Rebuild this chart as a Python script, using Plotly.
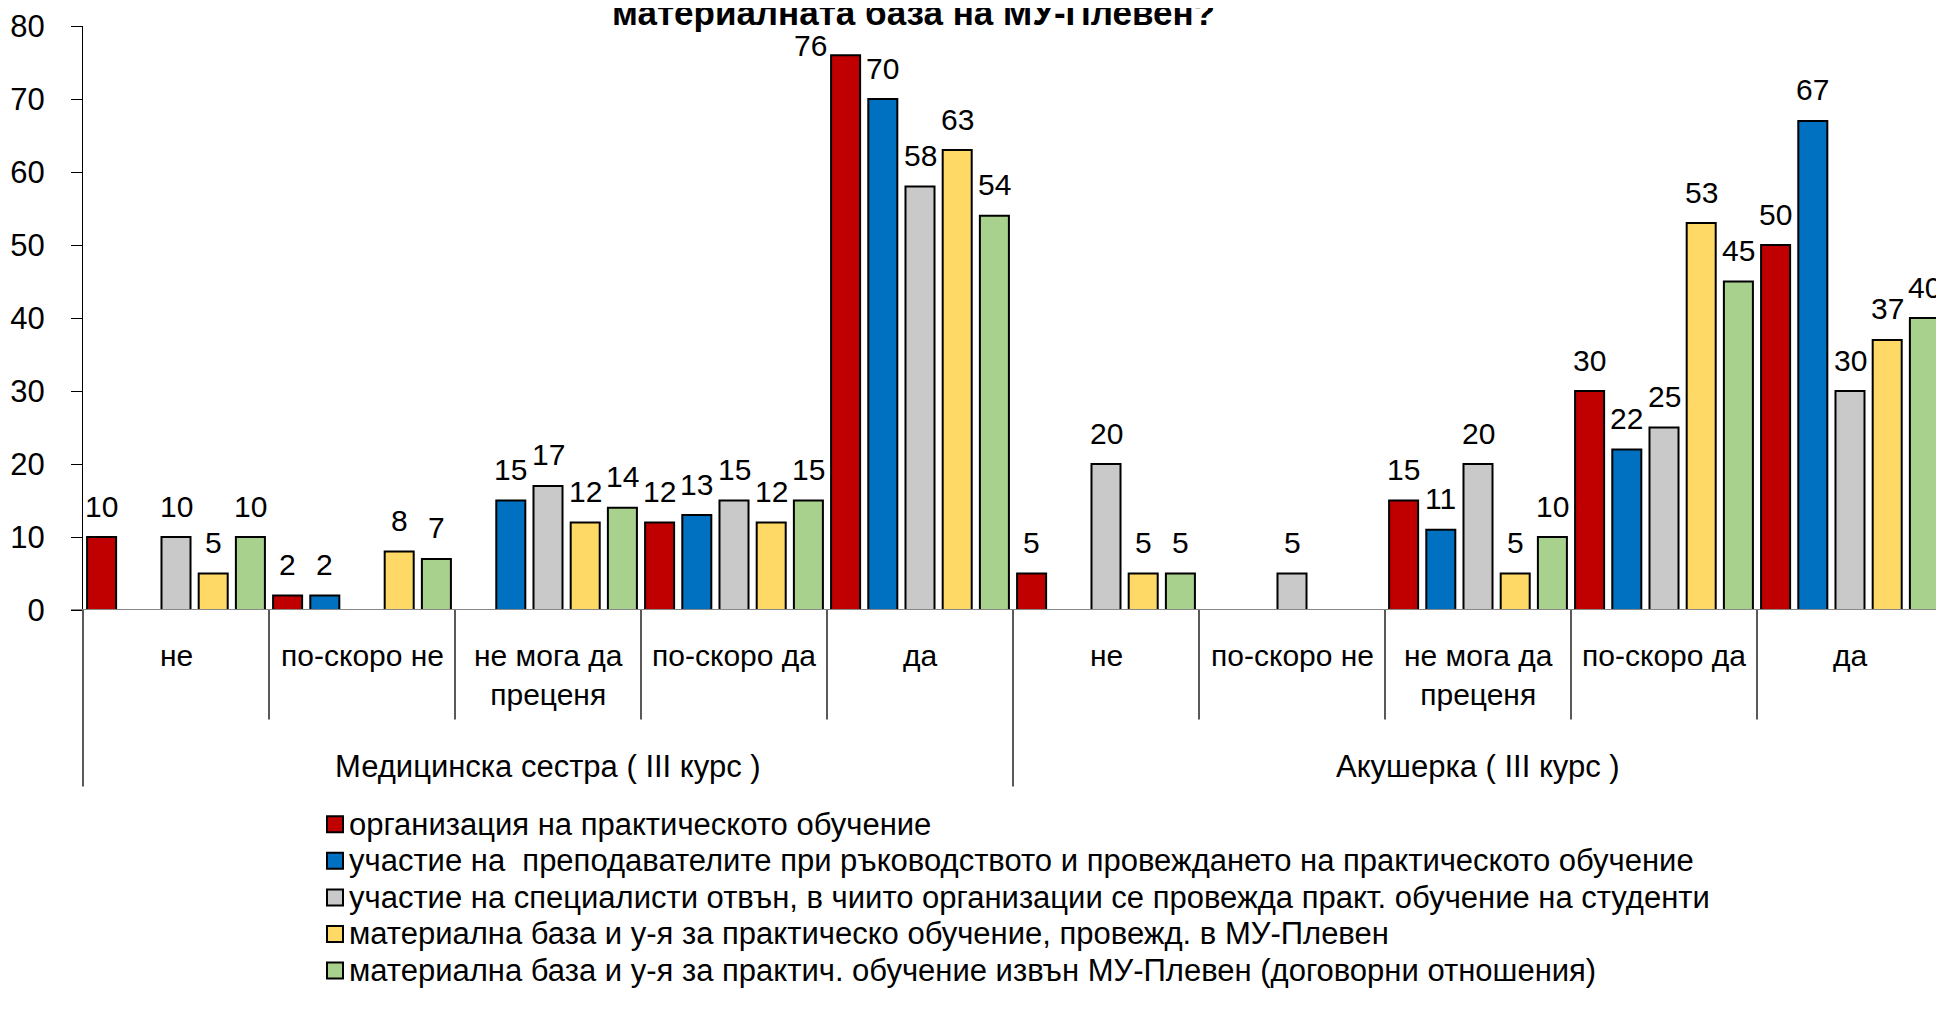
import plotly.graph_objects as go

# ---------------- data ----------------
groups = ["Медицинска сестра ( III курс )", "Акушерка ( III курс )"]
answers = ["не", "по-скоро не", "не мога да<br>преценя", "по-скоро да", "да"]
categories = [a for g in groups for a in answers]          # 10 categories
cat_index = list(range(len(categories)))

series_names = [
    "организация на практическото обучение",
    "участие на\u00a0 преподавателите при ръководството и провеждането на практическото обучение",
    "участие на специалисти отвън, в чиито организации се провежда практ. обучение на студенти",
    "материална база и у-я за практическо обучение, провежд. в МУ-Плевен",
    "материална база и у-я за практич. обучение извън МУ-Плевен (договорни отношения)",
]
organizacia   = [10, 2, None, 12, 76, 5, None, 15, 30, 50]
prepodavateli = [None, 2, 15, 13, 70, None, None, 11, 22, 67]
specialisti   = [10, None, 17, 15, 58, 20, 5, 20, 25, 30]
baza_mu       = [5, 8, 12, 12, 63, 5, None, 5, 53, 37]
baza_izvan    = [10, 7, 14, 15, 54, 5, None, 10, 45, 40]
series_values = [organizacia, prepodavateli, specialisti, baza_mu, baza_izvan]

title_text = "материалната база на МУ-Плевен?"

# ---------------- style ----------------
colors = ["#C00000", "#0070C0", "#C9C9C9", "#FFD966", "#A9D18E"]
FONT = "Liberation Sans, Arial, sans-serif"
PAGE_OFF = 8                      # default body margin of the html page
PLOT_L, PLOT_R, PLOT_T, PLOT_B = 83, 1943, 24, 610   # plot area in page pixels
W, H = 1944 - PAGE_OFF, 1014 - PAGE_OFF
ML, MT = PLOT_L - PAGE_OFF, PLOT_T - PAGE_OFF
MR = W - (PLOT_R - PAGE_OFF)
MB = H - (PLOT_B - PAGE_OFF)
PW, PH = PLOT_R - PLOT_L, PLOT_B - PLOT_T


def py2paper(py):
    return (PLOT_B - py) / PH


def px2paper(px):
    return (px - PLOT_L) / PW


n_series = len(series_values)
slot = 1.0 / n_series
label_offsets = {(4, 0): (-35, 10)}  # (category, series): (xshift, yshift) manual label moves

fig = go.Figure()
for j, (name, vals, col) in enumerate(zip(series_names, series_values, colors)):
    fig.add_trace(go.Bar(
        x=cat_index, y=vals, name=name,
        marker=dict(color=col, line=dict(color="black", width=2)),
        showlegend=False,
    ))

annotations = []
# data labels
for j, vals in enumerate(series_values):
    for i, v in enumerate(vals):
        if v is None:
            continue
        dx, dy = label_offsets.get((i, j), (0, 31))
        annotations.append(dict(
            x=i + (j - (n_series - 1) / 2) * slot, y=v, xref="x", yref="y",
            text=str(v), showarrow=False, yanchor="middle", xanchor="center",
            xshift=dx, yshift=dy, font=dict(family=FONT, size=30, color="black"),
        ))

# category labels
for i, c in enumerate(categories):
    annotations.append(dict(
        x=i, y=py2paper(637), xref="x", yref="paper", text=c, showarrow=False,
        yanchor="top", xanchor="center", font=dict(family=FONT, size=30, color="black"),
    ))
# group labels
for g_i, g in enumerate(groups):
    annotations.append(dict(
        x=g_i * len(answers) + (len(answers) - 1) / 2, y=py2paper(767), xref="x", yref="paper",
        text=g, showarrow=False, yanchor="middle", xanchor="center",
        font=dict(family=FONT, size=31, color="black"),
    ))

# title (its upper part is cut off at the top edge, as in the reference)
annotations.append(dict(
    x=px2paper(913), y=py2paper(32), xref="paper", yref="paper", text="<b>" + title_text + "</b>",
    showarrow=False, yanchor="bottom", xanchor="center",
    font=dict(family=FONT, size=35, color="black"),
))

shapes = []
# baseline
shapes.append(dict(type="line", xref="paper", yref="y", x0=px2paper(71), x1=1, y0=0, y1=0,
                   line=dict(color="#878787", width=2)))
# dividers
n_cat = len(categories)
for k in range(n_cat + 1):
    outer = (k % len(answers) == 0)
    shapes.append(dict(type="line", xref="paper", yref="paper", x0=k / n_cat, x1=k / n_cat,
                       y0=0, y1=py2paper(787 if outer else 720),
                       line=dict(color="black", width=1.3)))

# manual legend
LEG_X, LEG_Y0, LEG_DY, SQ = 327, 825, 36.7, 16
for j, (name, col) in enumerate(zip(series_names, colors)):
    cy = LEG_Y0 + j * LEG_DY
    shapes.append(dict(type="rect", xref="paper", yref="paper",
                       x0=px2paper(LEG_X), x1=px2paper(LEG_X + SQ),
                       y0=py2paper(cy - SQ / 2), y1=py2paper(cy + SQ / 2),
                       fillcolor=col, line=dict(color="black", width=2)))
    annotations.append(dict(
        x=px2paper(LEG_X + SQ + 4), y=py2paper(cy), xref="paper", yref="paper", text=name,
        showarrow=False, xanchor="left", yanchor="middle",
        font=dict(family=FONT, size=31, color="black"),
    ))

fig.update_layout(
    width=W, height=H, autosize=False,
    margin=dict(l=ML, r=MR, t=MT, b=MB),
    paper_bgcolor="white", plot_bgcolor="white",
    barmode="group", bargap=0, bargroupgap=0.22,
    showlegend=False,
    font=dict(family=FONT, size=30, color="black"),
    xaxis=dict(range=[-0.5, n_cat - 0.5], showticklabels=False, showgrid=False,
               zeroline=False, showline=False, ticks=""),
    yaxis=dict(range=[0, 80], dtick=10, tick0=0, ticks="outside", ticklen=11,
               tickcolor="black", tickwidth=1.3, showline=True, linecolor="black",
               linewidth=1.3, showgrid=False, zeroline=False, ticklabelstandoff=20,
               ticklabeloverflow="allow",
               tickfont=dict(family=FONT, size=31, color="black")),
    shapes=shapes, annotations=annotations,
)

fig.write_html("out.html")
